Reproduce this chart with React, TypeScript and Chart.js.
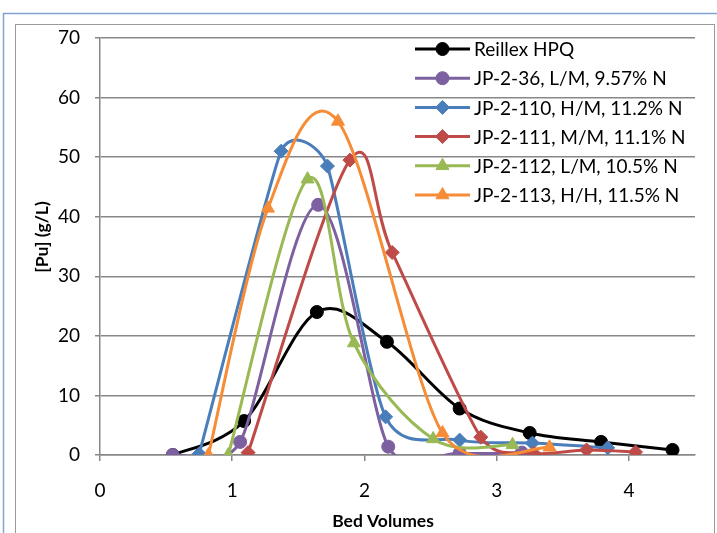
import React, { useEffect, useRef } from "react";
import { Chart, registerables } from "chart.js";

Chart.register(...registerables);

const seriesNames = [
  "Reillex HPQ",
  "JP-2-36, L/M, 9.57% N",
  "JP-2-110, H/M, 11.2% N",
  "JP-2-111, M/M, 11.1% N",
  "JP-2-112, L/M, 10.5% N",
  "JP-2-113, H/H, 11.5% N",
];

const reillexX = [0.55, 1.09, 1.64, 2.17, 2.72, 3.25, 3.79, 4.33];
const reillexY = [0, 5.7, 24, 19, 7.8, 3.7, 2.2, 0.85];

const jp36X = [0.55, 1.06, 1.65, 2.18, 2.72, 3.19];
const jp36Y = [0, 2.2, 42, 1.4, 0.3, 0.4];

const jp110X = [0.75, 1.37, 1.72, 2.16, 2.72, 3.27, 3.84];
const jp110Y = [0.2, 51, 48.5, 6.4, 2.5, 2.0, 1.2];

const jp111X = [1.12, 1.89, 2.21, 2.88, 3.28, 3.68, 4.05];
const jp111Y = [0.4, 49.5, 34, 3.0, 0.3, 0.85, 0.5];

const jp112X = [0.97, 1.57, 1.92, 2.52, 3.12];
const jp112Y = [0, 46.3, 18.8, 2.7, 1.7];

const jp113X = [0.82, 1.27, 1.8, 2.59, 3.4];
const jp113Y = [0, 41.4, 56, 3.7, 1.3];

const xTicks = [0, 1, 2, 3, 4];
const yTicks = [0, 10, 20, 30, 40, 50, 60, 70];

const colors = ["#000000", "#7D60A0", "#4A7EBB", "#BE4B48", "#98B954", "#F68C36"];
const markers = ["circle", "circle", "rectRot", "rectRot", "triangle", "triangle"];

const FONT = "Lato, 'Open Sans', sans-serif";

function pts(xs: number[], ys: number[]) {
  return xs.map((x, i) => ({ x, y: ys[i] }));
}

function drawMarker(ctx: CanvasRenderingContext2D, style: string, x: number, y: number, color: string) {
  ctx.save();
  ctx.fillStyle = color;
  ctx.strokeStyle = color;
  ctx.lineWidth = 1;
  ctx.beginPath();
  if (style === "circle") {
    ctx.arc(x, y, 6.5, 0, Math.PI * 2);
  } else if (style === "rectRot") {
    const r = 7;
    ctx.moveTo(x, y - r);
    ctx.lineTo(x + r, y);
    ctx.lineTo(x, y + r);
    ctx.lineTo(x - r, y);
    ctx.closePath();
  } else {
    const r = 7.5;
    ctx.moveTo(x, y - r);
    ctx.lineTo(x + r * 0.866, y + r * 0.5);
    ctx.lineTo(x - r * 0.866, y + r * 0.5);
    ctx.closePath();
  }
  ctx.fill();
  ctx.stroke();
  ctx.restore();
}

// Spreadsheet-style smoothing (Catmull-Rom with handle length limited to half
// the adjacent segment), applied to the library's own line element control points.
const smoothPlugin = {
  id: "smooth",
  beforeDatasetDraw(chart: any, args: any) {
    const meta = args.meta;
    const line = meta.dataset;
    if (!line) return;
    if (typeof line.updateControlPoints === "function") {
      line.updateControlPoints(chart.chartArea, meta.iAxis || "x");
    }
    const p = meta.data;
    const n = p.length;
    const dist = (a: any, b: any) => Math.hypot(a.x - b.x, a.y - b.y);
    for (let i = 0; i < n; i++) {
      const prev = p[Math.max(i - 1, 0)];
      const next = p[Math.min(i + 1, n - 1)];
      const d02 = dist(prev, next);
      let f = 1 / 6;
      if (d02 > 0) {
        const d01 = dist(prev, p[i]);
        const d12 = dist(p[i], next);
        if (i > 0 && i < n - 1) {
          f = Math.min(f, d01 / (2 * d02), d12 / (2 * d02));
        }
      }
      const dx = (next.x - prev.x) * f;
      const dy = (next.y - prev.y) * f;
      p[i].cp1x = p[i].x - dx;
      p[i].cp1y = p[i].y - dy;
      p[i].cp2x = p[i].x + dx;
      p[i].cp2y = p[i].y + dy;
    }
    line._path = undefined;
  },
};

const decorPlugin = {
  id: "decor",
  beforeDraw(chart: any) {
    const ctx = chart.ctx as CanvasRenderingContext2D;
    ctx.save();
    ctx.fillStyle = "#ffffff";
    ctx.fillRect(0, 0, chart.width, chart.height);
    ctx.strokeStyle = "#7FA3D3";
    ctx.lineWidth = 1.5;
    ctx.strokeRect(3.5, 13.5, 800, 800);
    ctx.strokeStyle = "#9a9a9a";
    ctx.lineWidth = 1;
    ctx.strokeRect(15.5, 24.5, 699, 800);
    ctx.restore();
  },
  afterDraw(chart: any) {
    const ctx = chart.ctx as CanvasRenderingContext2D;
    ctx.save();
    // axis titles
    ctx.fillStyle = "#000";
    ctx.font = `bold 17.5px ${FONT}`;
    ctx.textAlign = "center";
    ctx.textBaseline = "middle";
    ctx.fillText("Bed Volumes", 383, 521);
    ctx.save();
    ctx.translate(42, 237);
    ctx.rotate(-Math.PI / 2);
    ctx.fillText("[Pu] (g/L)", 0, 0);
    ctx.restore();
    // legend
    const lx0 = 415;
    const lx1 = 470;
    const ly0 = 49;
    const step = 29.2;
    ctx.font = `19px ${FONT}`;
    ctx.textAlign = "left";
    seriesNames.forEach((name, i) => {
      const y = ly0 + i * step;
      ctx.strokeStyle = colors[i];
      ctx.lineWidth = 3;
      ctx.beginPath();
      ctx.moveTo(lx0, y);
      ctx.lineTo(lx1, y);
      ctx.stroke();
      drawMarker(ctx, markers[i], (lx0 + lx1) / 2, y, colors[i]);
      ctx.fillStyle = "#000";
      ctx.fillText(name, 474, y + 1);
    });
    ctx.restore();
  },
};

export default function App() {
  const ref = useRef<HTMLCanvasElement | null>(null);
  useEffect(() => {
    if (!ref.current) return;
    const allX = [reillexX, jp36X, jp110X, jp111X, jp112X, jp113X];
    const allY = [reillexY, jp36Y, jp110Y, jp111Y, jp112Y, jp113Y];
    const datasets = seriesNames.map((name, i) => ({
      label: name,
      data: pts(allX[i], allY[i]),
      borderColor: colors[i],
      backgroundColor: colors[i],
      borderWidth: 3,
      pointStyle: markers[i] as any,
      pointRadius: markers[i] === "triangle" ? 7.5 : markers[i] === "rectRot" ? 7 : 6.5,
      pointBorderWidth: 1,
      pointBorderColor: colors[i],
      pointBackgroundColor: colors[i],
      tension: 0.4,
      fill: false,
      order: 5 - i,
      showLine: true,
    }));
    const chart = new Chart(ref.current, {
      type: "scatter",
      data: { datasets },
      options: {
        animation: false,
        responsive: false,
        devicePixelRatio: 1,
        layout: { padding: { left: 0, top: 38, right: 22, bottom: 0 } },
        plugins: { legend: { display: false }, tooltip: { enabled: false } },
        scales: {
          x: {
            type: "linear",
            min: 0,
            max: 4.5,
            afterBuildTicks: (s: any) => {
              s.ticks = xTicks.map((v) => ({ value: v }));
            },
            afterFit: (s: any) => {
              s.height = 78;
            },
            grid: {
              drawOnChartArea: false,
              drawTicks: true,
              tickLength: 6,
              color: "#878787",
              lineWidth: 1.5,
            },
            border: { display: true, color: "#878787", width: 1.5 },
            ticks: {
              padding: 18,
              color: "#000",
              font: { family: FONT, size: 19 },
              maxRotation: 0,
            },
          },
          y: {
            type: "linear",
            min: 0,
            max: 70,
            afterBuildTicks: (s: any) => {
              s.ticks = yTicks.map((v) => ({ value: v }));
            },
            afterFit: (s: any) => {
              s.width = 100;
            },
            grid: {
              drawTicks: true,
              tickLength: 5,
              color: "#878787",
              lineWidth: 1.5,
            },
            border: { display: true, color: "#878787", width: 1.5 },
            ticks: {
              padding: 15,
              color: "#000",
              font: { family: FONT, size: 19 },
            },
          },
        },
      },
      plugins: [decorPlugin, smoothPlugin],
    });
    return () => chart.destroy();
  }, []);
  return (
    <div style={{ position: "absolute", left: 0, top: 0, width: 717, height: 533 }}>
      <canvas ref={ref} width={717} height={533} style={{ width: 717, height: 533, display: "block" }} />
    </div>
  );
}
